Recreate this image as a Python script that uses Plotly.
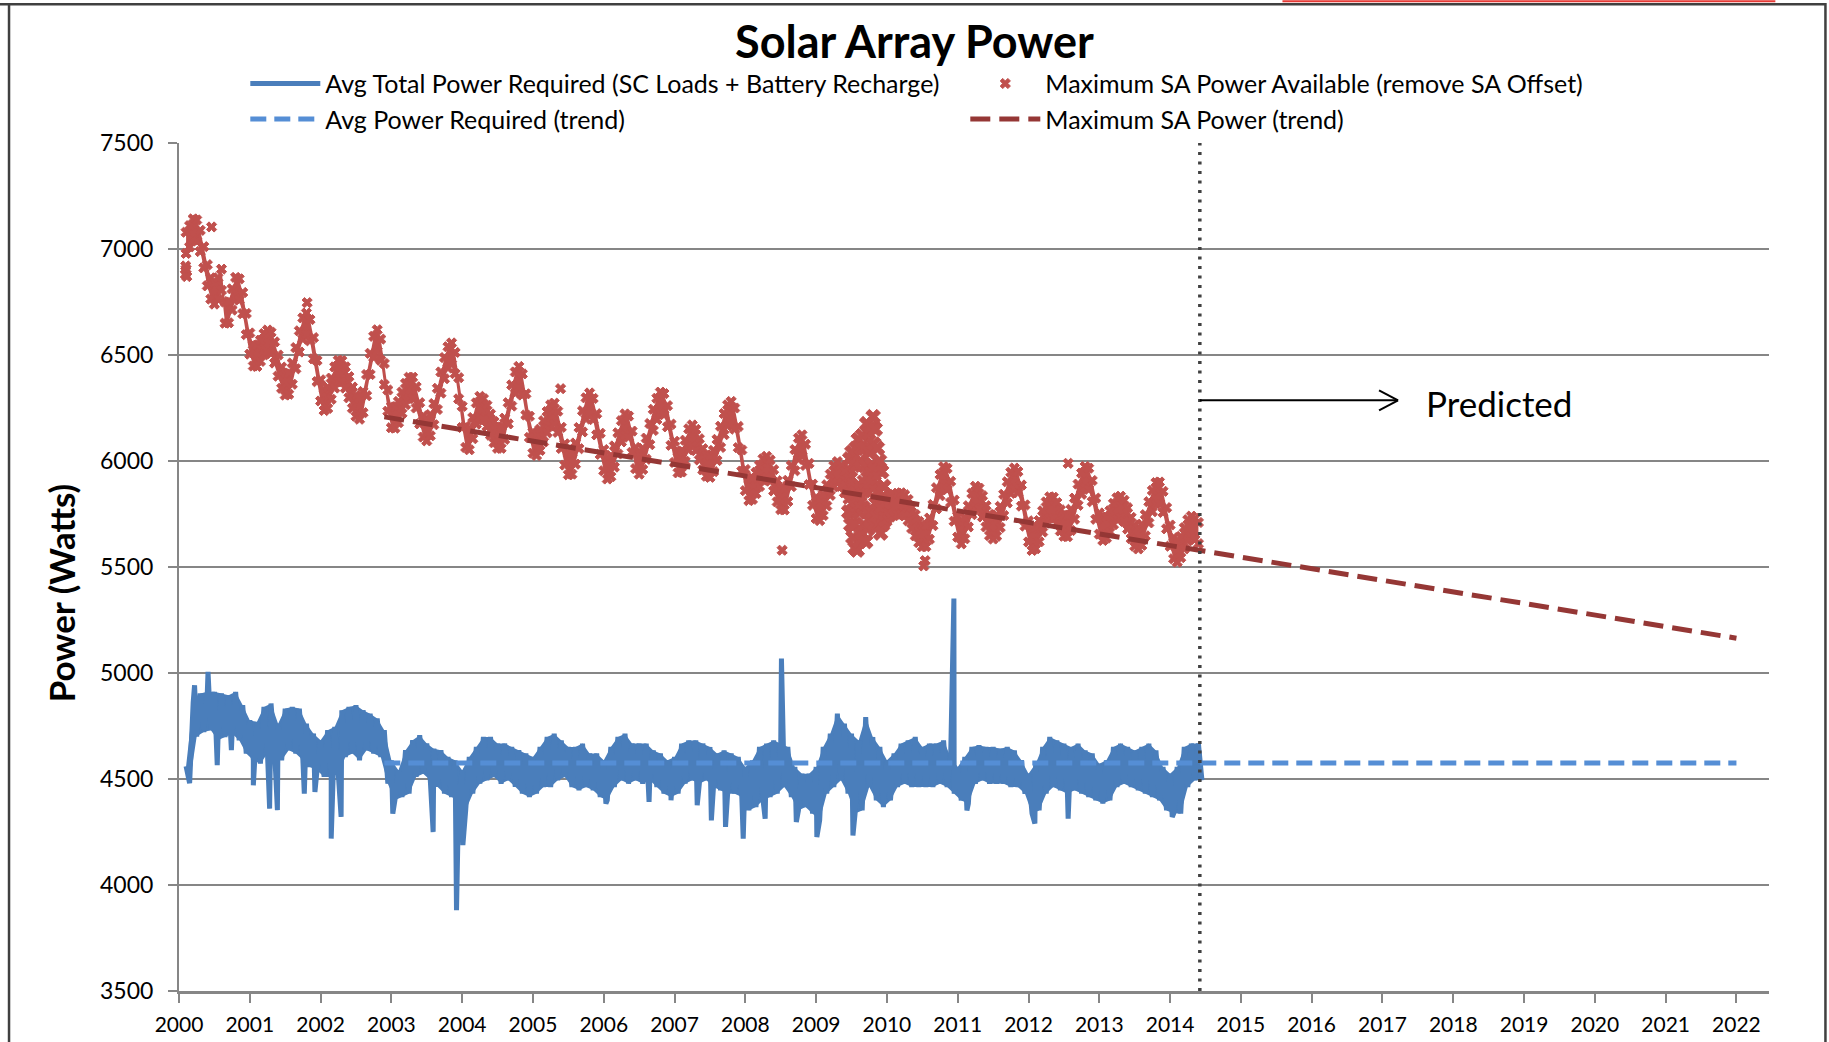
import numpy as np
import plotly.graph_objects as go

# ---------------- data ----------------
# Maximum SA power available: band centre, sampled every 0.05 yr from 2000.10
sa_start = 2000.10
sa_step = 0.05
sa_center = [
    7029, 7060, 7092, 7087, 7038, 6961, 6876, 6814, 6790, 6814, 6855, 6700, 6702, 6762, 6816, 6809, 6745, 6646,
    6554, 6498, 6496, 6520, 6551, 6568, 6557, 6512, 6450, 6393, 6361, 6365, 6412, 6485, 6564, 6625, 6648, 6617, 6532, 6424,
    6333, 6288, 6298, 6341, 6394, 6425, 6423, 6394, 6348, 6299, 6261, 6247, 6278, 6358, 6458, 6538, 6569, 6525, 6410, 6285,
    6207, 6205, 6231, 6275, 6316, 6345, 6345, 6300, 6225, 6163, 6145, 6169, 6221, 6293, 6370, 6438, 6489, 6507, 6462, 6343,
    6208, 6114, 6103, 6155, 6224, 6255, 6244, 6213, 6172, 6136, 6110, 6110, 6152, 6225, 6309, 6370, 6396, 6361, 6267, 6161,
    6087, 6076, 6100, 6140, 6183, 6215, 6223, 6185, 6109, 6031, 5985, 5988, 6035, 6108, 6187, 6248, 6271, 6245, 6173, 6081,
    6004, 5965, 5976, 6021, 6083, 6140, 6172, 6162, 6091, 6014, 5988, 6010, 6058, 6127, 6194, 6246, 6275, 6268, 6211, 6124,
    6043, 5994, 5998, 6048, 6102, 6120, 6099, 6055, 6008, 5978, 5973, 6000, 6052, 6114, 6174, 6215, 6231, 6200, 6113, 6002,
    5910, 5863, 5869, 5896, 5930, 5960, 5972, 5955, 5909, 5857, 5821, 5819, 5859, 5929, 6004, 6058, 6073, 6029, 5939, 5841,
    5779, 5769, 5793, 5838, 5888, 5928, 5947, 5930, 5900, 5870, 5850, 5830, 5840, 5860, 5900, 5900, 5920, 5880, 5830, 5790,
    5775, 5785, 5792, 5798, 5800, 5791, 5768, 5732, 5697, 5665, 5646, 5646, 5681, 5745, 5824, 5886, 5923, 5915, 5854, 5766,
    5691, 5659, 5683, 5739, 5797, 5831, 5822, 5786, 5739, 5698, 5682, 5696, 5736, 5793, 5852, 5897, 5917, 5900, 5837, 5743,
    5668, 5628, 5636, 5669, 5715, 5757, 5781, 5779, 5754, 5720, 5695, 5693, 5722, 5775, 5841, 5893, 5924, 5916, 5858, 5775,
    5705, 5675, 5686, 5715, 5750, 5776, 5784, 5765, 5729, 5684, 5648, 5635, 5652, 5697, 5758, 5811, 5848, 5851, 5807, 5730,
    5648, 5589, 5573, 5594, 5635, 5673, 5690, 5680, 5660,
]
sa_half_spread = 50  # half thickness of the daily scatter band (W)

# isolated points of the SA series
sa_outlier_x = [2000.09, 2000.10, 2000.11, 2000.095, 2000.46, 2001.81, 2005.39, 2008.52, 2010.52, 2010.54, 2012.56]
sa_outlier_y = [6880, 6905, 6870, 6920, 7104, 6747, 6341, 5579, 5505, 5530, 5989]

# widely scattered stretch of the SA series in late 2009
sa_noise_x = [2009.45, 2009.455, 2009.46, 2009.475, 2009.485, 2009.49, 2009.505, 2009.515, 2009.52, 2009.535,
              2009.545, 2009.55, 2009.565, 2009.575, 2009.58, 2009.595, 2009.605, 2009.61, 2009.625, 2009.635,
              2009.64, 2009.655, 2009.665, 2009.67, 2009.685, 2009.695, 2009.70, 2009.715, 2009.725, 2009.73,
              2009.745, 2009.755, 2009.76, 2009.775, 2009.785, 2009.79, 2009.805, 2009.815, 2009.82, 2009.835,
              2009.845, 2009.85, 2009.865, 2009.875, 2009.88, 2009.895, 2009.905, 2009.91, 2009.925, 2009.935,
              2009.94, 2009.955, 2009.965, 2009.97]
sa_noise_y = [5960, 5860, 5760, 6010, 5920, 5700, 6040, 5760, 5640, 5980,
              5700, 5590, 6060, 5980, 5580, 6100, 5760, 5620, 6000, 6060,
              5660, 6120, 5780, 5700, 6060, 5980, 5620, 6176, 5760, 5680,
              6130, 6040, 5720, 6160, 5980, 5760, 6209, 6080, 5700, 6150,
              5800, 5740, 6060, 5960, 5700, 6000, 5780, 5660, 5950, 5820,
              5700, 5880, 5800, 5720]

# Avg total power required: upper / lower edge of the noisy line, every 0.1 yr from 2000.1
req_start = 2000.1
req_step = 0.1
req_hi = [
    4560, 4860, 4903, 4911, 4911, 4903, 4895, 4911, 4848,
    4777, 4769, 4840, 4856, 4761, 4832, 4840, 4832, 4761, 4714,
    4683, 4730, 4746, 4824, 4840, 4848, 4824, 4808, 4785, 4730,
    4588, 4541, 4636, 4683, 4706, 4667, 4643, 4636, 4604, 4588,
    4541, 4604, 4651, 4698, 4698, 4667, 4667, 4651, 4636, 4620,
    4604, 4651, 4698, 4714, 4682, 4651, 4651, 4667, 4620, 4620,
    4588, 4651, 4698, 4714, 4667, 4667, 4667, 4635, 4620, 4588,
    4604, 4667, 4682, 4682, 4667, 4651, 4620, 4635, 4620, 4604,
    4557, 4588, 4651, 4667, 4682, 4667, 4651, 4557, 4525, 4525,
    4557, 4651, 4714, 4808, 4761, 4714, 4682, 4792, 4698, 4651,
    4588, 4620, 4667, 4682, 4698, 4651, 4667, 4667, 4682, 4604,
    4557, 4604, 4651, 4659, 4651, 4651, 4643, 4651, 4635, 4588,
    4525, 4572, 4651, 4698, 4682, 4667, 4651, 4667, 4635, 4620,
    4572, 4588, 4651, 4667, 4651, 4635, 4651, 4667, 4635, 4557,
    4525, 4557, 4651, 4667, 4667,
]
req_lo = [
    4480, 4700, 4722, 4730, 4683, 4698, 4714, 4683, 4620,
    4588, 4573, 4620, 4636, 4588, 4636, 4620, 4588, 4557, 4541,
    4510, 4510, 4525, 4604, 4620, 4588, 4636, 4620, 4604, 4478,
    4400, 4415, 4431, 4510, 4525, 4494, 4463, 4431, 4415, 4400,
    4353, 4431, 4478, 4494, 4510, 4478, 4494, 4463, 4431, 4415,
    4431, 4462, 4462, 4494, 4510, 4462, 4447, 4462, 4447, 4415,
    4400, 4462, 4494, 4478, 4494, 4478, 4494, 4462, 4431, 4415,
    4431, 4478, 4494, 4478, 4494, 4462, 4447, 4431, 4431, 4415,
    4352, 4368, 4400, 4415, 4431, 4462, 4415, 4352, 4368, 4337,
    4305, 4431, 4462, 4494, 4431, 4337, 4352, 4462, 4399, 4368,
    4399, 4462, 4478, 4462, 4462, 4462, 4462, 4478, 4462, 4431,
    4399, 4384, 4478, 4494, 4478, 4478, 4478, 4462, 4462, 4431,
    4337, 4352, 4431, 4462, 4447, 4431, 4447, 4431, 4415, 4399,
    4384, 4399, 4462, 4478, 4462, 4447, 4431, 4415, 4399, 4352,
    4337, 4337, 4462, 4494, 4494,
]
req_spike_x = [2000.22, 2000.41, 2000.54, 2000.74, 2001.05, 2001.28, 2001.39, 2001.77, 2001.92, 2002.15,
               2002.29, 2003.02, 2003.59, 2003.92, 2004.01, 2006.03, 2006.64, 2006.95, 2007.32, 2007.52,
               2007.72, 2007.97, 2008.28, 2008.51, 2008.72, 2009.01, 2009.52, 2010.946, 2011.13, 2012.09,
               2012.56, 2014.03]
req_spike_y = [4942, 5005, 4565, 4636, 4470, 4360, 4353, 4431, 4439, 4219,
               4321, 4337, 4250, 3881, 4188, 4384, 4392, 4400, 4376, 4305,
               4274, 4219, 4313, 5068, 4297, 4226, 4234, 5351, 4352, 4290,
               4313, 4321]

# trend lines
trend_x = [2002.9, 2022.0]
sa_trend_y = [6208, 5164]
req_trend_y = [4575, 4575]

predicted_from = 2014.42
arrow_to = 2017.22
arrow_level = 6286
x_ticks = list(range(2000, 2023))
y_ticks = list(range(3500, 7501, 500))

# ---------------- build ----------------
sa_t = sa_start + sa_step * np.arange(len(sa_center))
sa_c = np.array(sa_center, dtype=float)
sa_hi = sa_c + sa_half_spread
sa_lo = sa_c - sa_half_spread

req_t = req_start + req_step * np.arange(len(req_hi))
req_t_lo = req_t + req_step / 2
rx = np.concatenate([req_t, req_t_lo, req_spike_x])
ry = np.concatenate([req_hi, req_lo, req_spike_y])
order = np.argsort(rx, kind="stable")
rx, ry = rx[order], ry[order]

RED = "#C0504D"
DARKRED = "#953735"
BLUE = "#4A7EBB"
LIGHTBLUE = "#558ED5"
GRID = "#868686"
FONT = "Lato, 'Open Sans', sans-serif"

fig = go.Figure()
# body of the noisy power-required line
fig.add_trace(go.Scatter(x=np.concatenate([req_t, req_t_lo[::-1]]),
                         y=np.concatenate([req_hi, np.array(req_lo)[::-1]]),
                         mode="lines", fill="toself", fillcolor=BLUE, line=dict(width=0, color=BLUE),
                         showlegend=False, hoverinfo="skip"))
fig.add_trace(go.Scatter(x=rx, y=ry, mode="lines", line=dict(color=BLUE, width=5, simplify=False),
                         name="Avg Total Power Required (SC Loads + Battery Recharge)"))
# body of the SA scatter band
fig.add_trace(go.Scatter(x=np.concatenate([sa_t, sa_t[::-1]]),
                         y=np.concatenate([sa_hi, sa_lo[::-1]]),
                         mode="lines", fill="toself", fillcolor=RED, line=dict(width=0, color=RED),
                         showlegend=False, hoverinfo="skip"))
fig.add_trace(go.Scatter(x=sa_noise_x, y=sa_noise_y, mode="markers",
                         marker=dict(symbol="x", size=13, color=RED, line=dict(width=1, color=RED)),
                         showlegend=False))
fig.add_trace(go.Scatter(x=np.concatenate([sa_t, sa_t, sa_outlier_x]),
                         y=np.concatenate([sa_hi, sa_lo, sa_outlier_y]),
                         mode="markers", marker=dict(symbol="x", size=9, color=RED, line=dict(width=1, color=RED)),
                         name="Maximum SA Power Available (remove SA Offset)"))
fig.add_trace(go.Scatter(x=trend_x, y=req_trend_y, mode="lines",
                         line=dict(color=LIGHTBLUE, width=5, dash="16px,8px"),
                         name="Avg Power Required (trend)"))
fig.add_trace(go.Scatter(x=trend_x, y=sa_trend_y, mode="lines",
                         line=dict(color=DARKRED, width=5, dash="20px,9px"),
                         name="Maximum SA Power (trend)"))

shapes = [
    dict(type="line", xref="x", yref="paper", x0=predicted_from, x1=predicted_from, y0=0, y1=1,
         line=dict(color="#404040", width=3.5, dash="3px,6.5px")),
    dict(type="line", xref="x", yref="y", x0=predicted_from, x1=arrow_to, y0=arrow_level, y1=arrow_level,
         line=dict(color="black", width=2)),
    dict(type="line", xref="x", yref="y", xsizemode="pixel", ysizemode="pixel",
         xanchor=arrow_to, yanchor=arrow_level, x0=-19, x1=0, y0=10, y1=0,
         line=dict(color="black", width=2)),
    dict(type="line", xref="x", yref="y", xsizemode="pixel", ysizemode="pixel",
         xanchor=arrow_to, yanchor=arrow_level, x0=-19, x1=0, y0=-10, y1=0,
         line=dict(color="black", width=2)),
    # chart frame
    dict(type="rect", xref="paper", yref="paper", x0=-0.1069, x1=1.0355, y0=-0.3, y1=1.1636,
         line=dict(color="#404040", width=2.5)),
    dict(type="line", xref="paper", yref="paper", x0=-0.1130, x1=-0.1069, y0=1.1636, y1=1.1636,
         line=dict(color="#404040", width=2.5)),
    # red strip at the very top (outside the chart frame)
    dict(type="line", xref="paper", yref="paper", x0=0.694, x1=1.004, y0=1.1671, y1=1.1671,
         line=dict(color="#E53935", width=2)),
]

fig.update_layout(
    width=1829, height=1042,
    margin=dict(l=179, r=59.5, t=142.7, b=51.3),
    paper_bgcolor="white", plot_bgcolor="white",
    font=dict(family=FONT, color="black"),
    title=dict(text="<b>Solar Array Power</b>", x=0.5, xanchor="center", y=0.959, yanchor="middle",
               font=dict(size=45, family=FONT, color="black")),
    showlegend=True,
    legend=dict(orientation="h", x=0.0417, xanchor="left", y=1.097, yanchor="top",
                entrywidth=635, entrywidthmode="pixels", itemwidth=70, font=dict(size=25, family=FONT),
                bgcolor="rgba(0,0,0,0)", traceorder="normal", tracegroupgap=0),
    shapes=shapes,
    annotations=[
        dict(text="Predicted", x=2017.59, xref="x", y=6272, yref="y", xanchor="left",
             yanchor="middle", showarrow=False, font=dict(size=35, family=FONT, color="black")),
        dict(text="<b>Power (Watts)</b>", x=-0.0742, xref="paper", y=0.469, yref="paper",
             xanchor="center", yanchor="middle", textangle=-90, showarrow=False,
             font=dict(size=35, family=FONT, color="black")),
    ],
)
fig.update_xaxes(range=[2000, 2022.46], tickmode="array", tickvals=x_ticks, ticktext=[str(v) for v in x_ticks],
                 showgrid=False, zeroline=False, showline=True, linecolor=GRID, linewidth=2.5,
                 ticks="outside", ticklen=9, tickwidth=2, tickcolor=GRID, ticklabelstandoff=4,
                 tickfont=dict(size=21, family=FONT), automargin=False)
fig.update_yaxes(range=[3500, 7500], tickmode="array", tickvals=y_ticks,
                 showgrid=True, gridcolor=GRID, gridwidth=2, zeroline=False,
                 showline=True, linecolor=GRID, linewidth=2,
                 ticks="outside", ticklen=9, tickwidth=2, tickcolor=GRID, ticklabelstandoff=10,
                 tickfont=dict(size=23, family=FONT), automargin=False)

fig.write_html("out.html", config={"displayModeBar": False},
               post_script="document.body.style.margin='0';document.body.style.overflow='hidden';")
